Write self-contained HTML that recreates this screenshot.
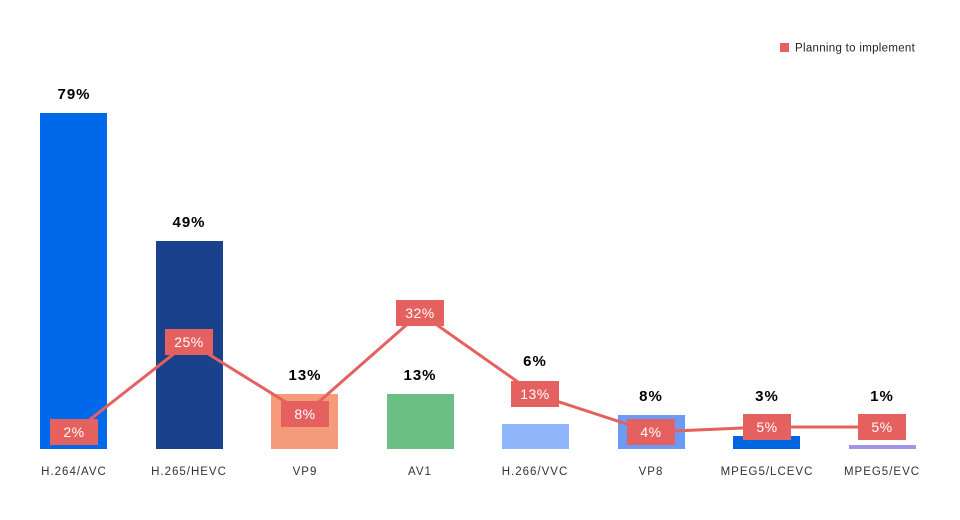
<!DOCTYPE html>
<html><head><meta charset="utf-8"><style>
html,body{margin:0;padding:0;background:#fff;}
svg{display:block;font-family:"Liberation Sans",sans-serif;}
.v{font-size:15px;font-weight:bold;fill:#000;text-anchor:middle;letter-spacing:1px}
.c{font-size:11.5px;fill:#333;text-anchor:middle;letter-spacing:1px}
.p{font-size:14px;fill:#fff;text-anchor:middle;letter-spacing:0.5px}
</style></head><body>
<svg width="960" height="520" viewBox="0 0 960 520">
<rect x="780" y="43" width="9" height="9" fill="#e5615f"/>
<text x="795" y="51.5" font-size="11.5" fill="#222" letter-spacing="0.3">Planning to implement</text>
<rect x="40" y="113" width="67" height="336" fill="#0068ea"/>
<rect x="156" y="241" width="67" height="208" fill="#1a418c"/>
<rect x="271" y="394" width="67" height="55" fill="#f59b7a"/>
<rect x="387" y="394" width="67" height="55" fill="#6bbf84"/>
<rect x="502" y="424" width="67" height="25" fill="#8fb5fb"/>
<rect x="618" y="415" width="67" height="34" fill="#6b9bf5"/>
<rect x="733" y="436" width="67" height="13" fill="#0066e0"/>
<rect x="849" y="445" width="67" height="4" fill="#a294e6"/>
<text class="v" x="74" y="99">79%</text>
<text class="v" x="189" y="227">49%</text>
<text class="v" x="305" y="380">13%</text>
<text class="v" x="420" y="380">13%</text>
<text class="v" x="535" y="366">6%</text>
<text class="v" x="651" y="401">8%</text>
<text class="v" x="767" y="401">3%</text>
<text class="v" x="882" y="401">1%</text>
<polyline points="74,432 189,342 305,414 420,313 535,394 651,432 767,427 882,427" fill="none" stroke="#e5615f" stroke-width="3"/>
<g fill="#e5615f">
<rect x="50" y="419" width="48" height="26"/>
<rect x="165" y="329" width="48" height="26"/>
<rect x="281" y="401" width="48" height="26"/>
<rect x="396" y="300" width="48" height="26"/>
<rect x="511" y="381" width="48" height="26"/>
<rect x="627" y="419" width="48" height="26"/>
<rect x="743" y="414" width="48" height="26"/>
<rect x="858" y="414" width="48" height="26"/>
</g>
<text class="p" x="74" y="437">2%</text>
<text class="p" x="189" y="347">25%</text>
<text class="p" x="305" y="419">8%</text>
<text class="p" x="420" y="318">32%</text>
<text class="p" x="535" y="399">13%</text>
<text class="p" x="651" y="437">4%</text>
<text class="p" x="767" y="432">5%</text>
<text class="p" x="882" y="432">5%</text>
<text class="c" x="74" y="475">H.264/AVC</text>
<text class="c" x="189" y="475">H.265/HEVC</text>
<text class="c" x="305" y="475">VP9</text>
<text class="c" x="420" y="475">AV1</text>
<text class="c" x="535" y="475">H.266/VVC</text>
<text class="c" x="651" y="475">VP8</text>
<text class="c" x="767" y="475">MPEG5/LCEVC</text>
<text class="c" x="882" y="475">MPEG5/EVC</text>
</svg>
</body></html>
